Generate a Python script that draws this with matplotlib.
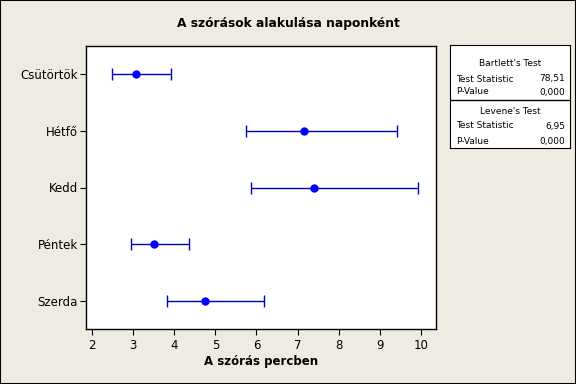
import numpy as np
import matplotlib.pyplot as plt
from matplotlib.patches import Rectangle

# adatok
napok = ["Csütörtök", "Hétfő", "Kedd", "Péntek", "Szerda"]
szoras = [3.07, 7.16, 7.40, 3.51, 4.75]
also = [2.49, 5.75, 5.87, 2.95, 3.82]
felso = [3.92, 9.42, 9.93, 4.36, 6.18]

bartlett = ["78,51", "0,000"]
levene = ["6,95", "0,000"]

bg = "#EEEBE2"
fig = plt.figure(figsize=(5.76, 3.84), dpi=100, facecolor=bg)
fig.patches.append(Rectangle((0, 0), 1, 1, transform=fig.transFigure,
                             fill=False, ec="black", lw=1.5))

W, H = 576, 384
ax = fig.add_axes([86/W, 1-329/H, (436-86)/W, (329-46)/H])
y = np.arange(len(napok))
sz = np.array(szoras)
err = [sz - np.array(also), np.array(felso) - sz]
ax.errorbar(sz, y, xerr=err, fmt="o", color="blue", ecolor="#0000C0",
            elinewidth=1, capsize=4.5, capthick=1, markersize=5)
ax.set_ylim(4.5, -0.5)
ax.set_xlim(1.854, 10.365)
ax.set_xticks(range(2, 11))
ax.set_yticks(y)
ax.set_yticklabels(napok)
ax.tick_params(labelsize=8.5, length=4)
ax.tick_params(axis="y", pad=2)
ax.set_xlabel("A szórás percben", fontsize=8.5, fontweight="bold", labelpad=2)
for s in ax.spines.values():
    s.set_linewidth(1)

fig.text(0.5, 1-24/H, "A szórások alakulása naponként", ha="center",
         va="center", fontsize=8.8, fontweight="bold")

# teszt doboz
bx = fig.add_axes([450/W, 1-148/H, 120/W, 103/H])
bx.set_xlim(0, 120)
bx.set_ylim(103, 0)
bx.set_xticks([])
bx.set_yticks([])
bx.axhline(55, color="black", lw=1)
fs = 6.5
bx.text(60, 18, "Bartlett's Test", ha="center", va="center", fontsize=fs)
bx.text(6, 34, "Test Statistic", va="center", fontsize=fs)
bx.text(115, 34, bartlett[0], ha="right", va="center", fontsize=fs)
bx.text(6, 47, "P-Value", va="center", fontsize=fs)
bx.text(115, 47, bartlett[1], ha="right", va="center", fontsize=fs)
bx.text(60, 66, "Levene's Test", ha="center", va="center", fontsize=fs)
bx.text(6, 81, "Test Statistic", va="center", fontsize=fs)
bx.text(115, 81, levene[0], ha="right", va="center", fontsize=fs)
bx.text(6, 96, "P-Value", va="center", fontsize=fs)
bx.text(115, 96, levene[1], ha="right", va="center", fontsize=fs)

plt.savefig("out.png", dpi=100, facecolor=bg)
